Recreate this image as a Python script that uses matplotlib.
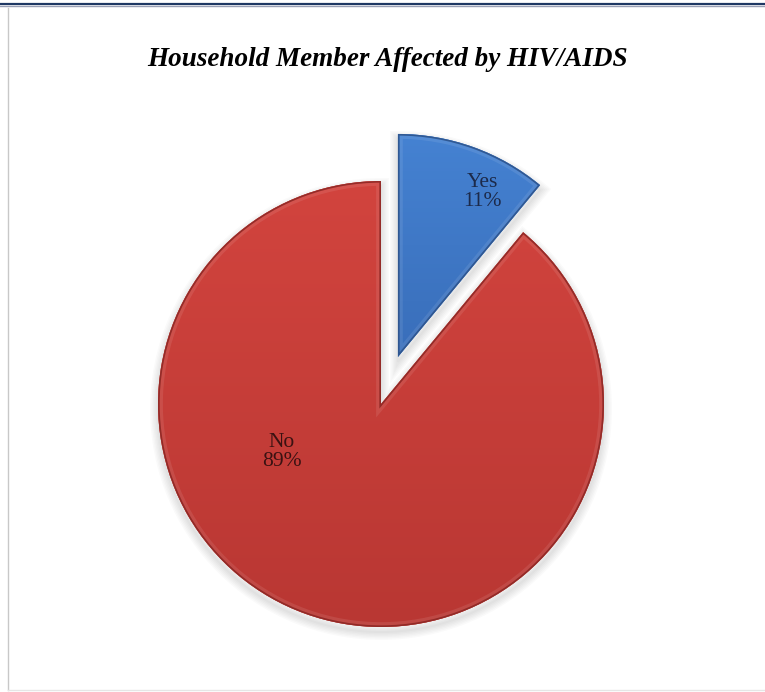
import numpy as np
import matplotlib
matplotlib.use("Agg")
import matplotlib.pyplot as plt
import matplotlib.patches as mpatches
import matplotlib.transforms as mtransforms
from matplotlib.lines import Line2D

# Survey responses
categories = ["Yes", "No"]
shares = [11, 89]

base_top = ["#4582d2", "#d2443e"]
base_bottom = ["#396eba", "#b93733"]
rim_colors = ["#2a5088", "#8a2522"]
label_colors = ["#1c2a4a", "#3a1212"]

W, H = 765, 692
fig = plt.figure(figsize=(W / 100, H / 100), dpi=100)
fig.patch.set_facecolor("white")
ax = fig.add_axes([0, 0, 1, 1])

center = (381, 288)
radius = 223
explode = [50, 0]

wedges, _ = ax.pie(shares, explode=explode, startangle=90, counterclock=False,
                   center=center, radius=radius, frame=True,
                   wedgeprops=dict(linewidth=0))
ax.set_xlim(0, W)
ax.set_ylim(0, H)
ax.set_aspect("equal")
ax.axis("off")


def hex_rgb(h):
    h = h.lstrip("#")
    return np.array([int(h[i:i + 2], 16) / 255 for i in (0, 2, 4)])


shadow_tf = mtransforms.offset_copy(ax.transData, fig=fig, x=0, y=-5, units="dots")

for i, w in enumerate(wedges):
    path = w.get_path()
    # soft drop shadow below the slice
    for k in range(6):
        sh = mpatches.PathPatch(path, facecolor="none", edgecolor="black",
                                linewidth=1.5 + 2.0 * k, alpha=0.018,
                                transform=shadow_tf, zorder=0.5)
        ax.add_patch(sh)
    w.set_zorder(1)
    w.set_facecolor(base_top[i])

    # gentle vertical shading inside the slice
    ext = path.get_extents()
    top = hex_rgb(base_top[i])
    bot = hex_rgb(base_bottom[i])
    t = np.linspace(0, 1, 256)[:, None]
    grad = top[None, :] * (1 - t) + bot[None, :] * t
    img = ax.imshow(grad[:, None, :], extent=(ext.x0, ext.x1, ext.y0, ext.y1),
                    origin="upper", aspect="auto", zorder=1.1, interpolation="bilinear")
    img.set_clip_path(w)

    # bevel highlight and darker rim
    hl = mpatches.PathPatch(path, facecolor="none", edgecolor="white",
                            linewidth=7, alpha=0.09, zorder=1.2,
                            transform=ax.transData)
    ax.add_patch(hl)
    hl.set_clip_path(w)
    rim = mpatches.PathPatch(path, facecolor="none", edgecolor=rim_colors[i],
                             linewidth=2.4, alpha=0.85, zorder=1.3,
                             transform=ax.transData)
    ax.add_patch(rim)
    rim.set_clip_path(w)

ax.set_xlim(0, W)
ax.set_ylim(0, H)

label_pos = [(482, 500), (282, 240)]
for name, val, pos, col in zip(categories, shares, label_pos, label_colors):
    ax.text(pos[0], pos[1], f"{name}\n{val}%", ha="center", va="center",
            fontsize=15.5, family="Liberation Serif", color=col,
            linespacing=1.05, zorder=3)

fig.text(388 / W, 1 - 60 / H, "Household Member Affected by HIV/AIDS",
         ha="center", va="center", fontsize=19.5, family="Liberation Serif",
         fontweight="bold", fontstyle="italic", color="black")

# frame lines
fig.add_artist(Line2D([0, 1], [1 - 3.5 / H] * 2, color="#1f3864", lw=1.6,
                      transform=fig.transFigure))
fig.add_artist(Line2D([0, 1], [1 - 6 / H] * 2, color="#9aa0b5", lw=1.0,
                      transform=fig.transFigure))
fig.add_artist(Line2D([7.5 / W] * 2, [2 / H, 1 - 8 / H], color="#c8c8c8", lw=1.0,
                      transform=fig.transFigure))
fig.add_artist(Line2D([7.5 / W, 1], [2.5 / H] * 2, color="#e6e6e6", lw=1.0,
                      transform=fig.transFigure))

fig.savefig("out.png", dpi=100, facecolor="white")
